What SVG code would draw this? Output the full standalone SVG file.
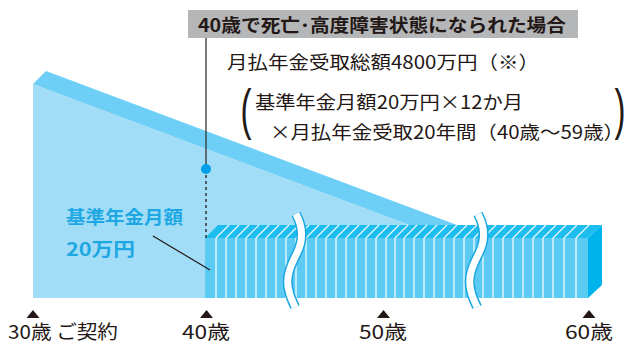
<svg xmlns="http://www.w3.org/2000/svg" width="629" height="343" viewBox="0 0 629 343">
<style>
.t{font-family:"Noto Sans CJK JP","Noto Sans CJK SC",sans-serif;fill:#231815}
.tb{font-weight:bold}
.blue{fill:#1ea8e3;font-weight:bold}
.vs{stroke:#ffffff;stroke-opacity:0.9;stroke-width:1.3}
.hs{stroke:#ffffff;stroke-opacity:0.9;stroke-width:1.2}
.paren{font-family:"Liberation Sans",sans-serif;fill:#231815}
</style>
<defs>
<path id="wave" d="M296,214 C303,227 303,241 297,253 C291,265 285,277 289,291 C290,297 293,302 295,307"/>
<g id="tri"><polygon points="0,0 -6.5,8 6.5,8" fill="#231815"/></g>
</defs>

<g id="light-area">
<polygon points="33,84 444,238 444,298 33,298" fill="#a2ddf7"/>
<polygon points="33,84 46,71 457,225 444,238" fill="#6dcff6"/>
</g>

<g id="pension-block">
<rect x="205" y="238" width="383" height="60" fill="#5ccbf4"/>
<polygon points="205,238 218,225 602,225 588,238" fill="#1ebdef"/>
<polygon points="588,238 602,225 602,285 588,298" fill="#00b3ec"/>
<g class="vs">
<line x1="216" y1="238" x2="216" y2="298"/><line x1="226" y1="238" x2="226" y2="298"/><line x1="236" y1="238" x2="236" y2="298"/><line x1="246" y1="238" x2="246" y2="298"/><line x1="256" y1="238" x2="256" y2="298"/><line x1="266" y1="238" x2="266" y2="298"/><line x1="276" y1="238" x2="276" y2="298"/><line x1="286" y1="238" x2="286" y2="298"/><line x1="296" y1="238" x2="296" y2="298"/><line x1="306" y1="238" x2="306" y2="298"/><line x1="316" y1="238" x2="316" y2="298"/><line x1="326" y1="238" x2="326" y2="298"/><line x1="336" y1="238" x2="336" y2="298"/><line x1="346" y1="238" x2="346" y2="298"/><line x1="356" y1="238" x2="356" y2="298"/><line x1="366" y1="238" x2="366" y2="298"/><line x1="376" y1="238" x2="376" y2="298"/><line x1="386" y1="238" x2="386" y2="298"/><line x1="395" y1="238" x2="395" y2="298"/><line x1="404" y1="238" x2="404" y2="298"/><line x1="414" y1="238" x2="414" y2="298"/><line x1="424" y1="238" x2="424" y2="298"/><line x1="434" y1="238" x2="434" y2="298"/><line x1="444" y1="238" x2="444" y2="298"/><line x1="454" y1="238" x2="454" y2="298"/><line x1="464" y1="238" x2="464" y2="298"/><line x1="474" y1="238" x2="474" y2="298"/><line x1="483" y1="238" x2="483" y2="298"/><line x1="493" y1="238" x2="493" y2="298"/><line x1="503" y1="238" x2="503" y2="298"/><line x1="513" y1="238" x2="513" y2="298"/><line x1="523" y1="238" x2="523" y2="298"/><line x1="533" y1="238" x2="533" y2="298"/><line x1="543" y1="238" x2="543" y2="298"/><line x1="553" y1="238" x2="553" y2="298"/><line x1="564" y1="238" x2="564" y2="298"/><line x1="576" y1="238" x2="576" y2="298"/>
</g>
<g class="hs">
<line x1="216" y1="238" x2="229" y2="225"/><line x1="226" y1="238" x2="239" y2="225"/><line x1="236" y1="238" x2="249" y2="225"/><line x1="246" y1="238" x2="259" y2="225"/><line x1="256" y1="238" x2="269" y2="225"/><line x1="266" y1="238" x2="279" y2="225"/><line x1="276" y1="238" x2="289" y2="225"/><line x1="286" y1="238" x2="299" y2="225"/><line x1="296" y1="238" x2="309" y2="225"/><line x1="306" y1="238" x2="319" y2="225"/><line x1="316" y1="238" x2="329" y2="225"/><line x1="326" y1="238" x2="339" y2="225"/><line x1="336" y1="238" x2="349" y2="225"/><line x1="346" y1="238" x2="359" y2="225"/><line x1="356" y1="238" x2="369" y2="225"/><line x1="366" y1="238" x2="379" y2="225"/><line x1="376" y1="238" x2="389" y2="225"/><line x1="386" y1="238" x2="399" y2="225"/><line x1="395" y1="238" x2="408" y2="225"/><line x1="404" y1="238" x2="417" y2="225"/><line x1="414" y1="238" x2="427" y2="225"/><line x1="424" y1="238" x2="437" y2="225"/><line x1="434" y1="238" x2="447" y2="225"/><line x1="444" y1="238" x2="457" y2="225"/><line x1="454" y1="238" x2="467" y2="225"/><line x1="464" y1="238" x2="477" y2="225"/><line x1="474" y1="238" x2="487" y2="225"/><line x1="483" y1="238" x2="496" y2="225"/><line x1="493" y1="238" x2="506" y2="225"/><line x1="503" y1="238" x2="516" y2="225"/><line x1="513" y1="238" x2="526" y2="225"/><line x1="523" y1="238" x2="536" y2="225"/><line x1="533" y1="238" x2="546" y2="225"/><line x1="543" y1="238" x2="556" y2="225"/><line x1="553" y1="238" x2="566" y2="225"/><line x1="564" y1="238" x2="577" y2="225"/><line x1="576" y1="238" x2="589" y2="225"/>
</g>
</g>

<g id="breaks" fill="none">
<use href="#wave" stroke="#1aa7e0" stroke-width="10"/>
<use href="#wave" stroke="#ffffff" stroke-width="7"/>
<use href="#wave" transform="translate(182,0)" stroke="#1aa7e0" stroke-width="10"/>
<use href="#wave" transform="translate(182,0)" stroke="#ffffff" stroke-width="7"/>
</g>

<g id="connectors">
<line x1="206" y1="38" x2="206" y2="165" stroke="#333" stroke-width="1.3"/>
<line x1="206" y1="175" x2="206" y2="238" stroke="#333" stroke-width="1.5" stroke-dasharray="3,3"/>
<line x1="153" y1="236" x2="210" y2="270" stroke="#231815" stroke-width="1.2"/>
</g>
<circle id="dot" cx="206" cy="169" r="5" fill="#00a0e9"/>

<g id="title">
<rect x="188" y="10" width="390" height="28" fill="#b5b6b8"/>
<text class="t tb" x="198" y="31.5" font-size="18" textLength="368" lengthAdjust="spacingAndGlyphs">40歳で死亡･高度障害状態になられた場合</text>
</g>

<g id="formula">
<text class="t" x="227" y="68.5" font-size="18.5" textLength="312" lengthAdjust="spacingAndGlyphs">月払年金受取総額4800万円（※）</text>
<text class="paren" transform="translate(246,128) scale(0.6,1)" font-size="55" text-anchor="middle">(</text>
<text class="t" x="255" y="108.5" font-size="18.5" textLength="268" lengthAdjust="spacingAndGlyphs">基準年金月額20万円×12か月</text>
<text class="t" x="270" y="138.5" font-size="18.5" textLength="354" lengthAdjust="spacingAndGlyphs">×月払年金受取20年間（40歳〜59歳）</text>
<text class="paren" transform="translate(620,128) scale(0.6,1)" font-size="55" text-anchor="middle">)</text>
</g>

<g id="base-label">
<text class="t blue" x="66" y="223.5" font-size="18.5" textLength="117" lengthAdjust="spacingAndGlyphs">基準年金月額</text>
<text class="t blue" x="66" y="255.5" font-size="18.5" textLength="69" lengthAdjust="spacingAndGlyphs">20万円</text>
</g>

<g id="axis">
<use href="#tri" x="33" y="310"/>
<use href="#tri" x="206.5" y="310"/>
<use href="#tri" x="383.5" y="310"/>
<use href="#tri" x="589" y="310"/>
<text class="t" x="8" y="339" font-size="19" textLength="110" lengthAdjust="spacingAndGlyphs">30歳 ご契約</text>
<text class="t" x="182" y="339" font-size="19" textLength="48" lengthAdjust="spacingAndGlyphs">40歳</text>
<text class="t" x="359" y="339" font-size="19" textLength="48" lengthAdjust="spacingAndGlyphs">50歳</text>
<text class="t" x="565" y="339" font-size="19" textLength="48" lengthAdjust="spacingAndGlyphs">60歳</text>
</g>
</svg>
